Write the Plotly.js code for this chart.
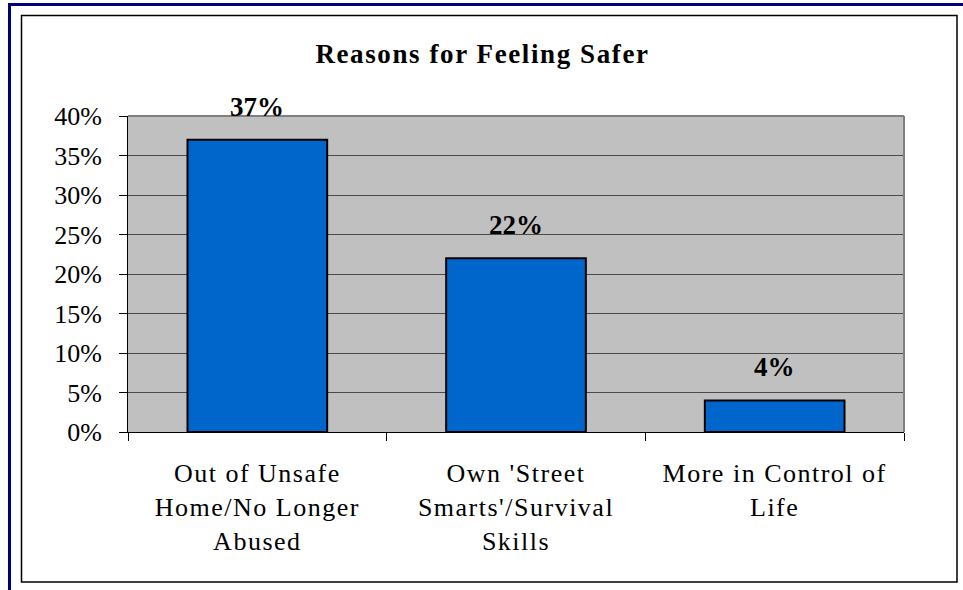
<!DOCTYPE html>
<html>
<head>
<meta charset="utf-8">
<script src="https://cdn.plot.ly/plotly-3.0.1.min.js"></script>
<style>
  html, body { margin: 0; padding: 0; background: #ffffff; }
  #chart { width: 963px; height: 590px; }
  .xtick text { letter-spacing: 1.5px; }
  .gtitle { letter-spacing: 1.6px; }
</style>
</head>
<body>
<div id="chart"></div>
<script>
// ---- data ----
const categories = [
  "Out of Unsafe<br>Home/No Longer<br>Abused",
  "Own 'Street<br>Smarts'/Survival<br>Skills",
  "More in Control of<br>Life"
];
const values = [0.37, 0.22, 0.04];
const valueLabels = ["37%", "22%", "4%"];
const yTickValues = [0, 0.05, 0.10, 0.15, 0.20, 0.25, 0.30, 0.35, 0.40];
const chartTitle = "Reasons for Feeling Safer";

// ---- layout geometry ----
const W = 963, H = 590;
const M = { l: 128, r: 59, t: 116, b: 158 };
const PW = W - M.l - M.r, PH = H - M.t - M.b;
const px = x => (x - M.l) / PW;          // pixel x -> paper x
const py = y => (H - M.b - y) / PH;      // pixel y -> paper y

const SERIF = "Liberation Serif";

const trace = {
  type: "bar",
  x: categories,
  y: values,
  marker: { color: "#0066CC", line: { color: "#000000", width: 2 } },
  hoverinfo: "skip"
};

const annotations = categories.map((c, i) => ({
  x: c, y: values[i], xref: "x", yref: "y",
  text: valueLabels[i], showarrow: false,
  yanchor: "bottom", yshift: 16,
  font: { family: SERIF, size: 27, color: "#000000", weight: "bold" }
}));

const shapes = [
  // outer navy frame (top + left)
  { type: "line", xref: "paper", yref: "paper", x0: px(8), x1: px(963), y0: py(4.5), y1: py(4.5),
    line: { color: "#000080", width: 3 }, layer: "above" },
  { type: "line", xref: "paper", yref: "paper", x0: px(9.5), x1: px(9.5), y0: py(3), y1: py(590),
    line: { color: "#000080", width: 3 }, layer: "above" },
  // inner chart-area box
  { type: "rect", xref: "paper", yref: "paper", x0: px(21.5), x1: px(957), y0: py(15.5), y1: py(582),
    line: { color: "#000000", width: 1.5 }, layer: "above" },
  // plot-area top & right border (gray)
  { type: "line", xref: "paper", yref: "paper", x0: 0, x1: 1, y0: 1, y1: 1,
    line: { color: "#808080", width: 2 }, layer: "above" },
  { type: "line", xref: "paper", yref: "paper", x0: 1, x1: 1, y0: 0, y1: 1,
    line: { color: "#808080", width: 2 }, layer: "above" }
];

const layout = {
  width: W, height: H,
  margin: M,
  font: { family: SERIF, color: "#000000" },
  paper_bgcolor: "#ffffff",
  plot_bgcolor: "#C0C0C0",
  showlegend: false,
  bargap: 0.46,
  title: {
    text: "<b>" + chartTitle + "</b>",
    x: 482.5 / W, xanchor: "center",
    y: 1 - 54 / H, yanchor: "middle", yref: "container",
    font: { family: SERIF, size: 27, color: "#000000" }
  },
  xaxis: {
    type: "category",
    tickson: "boundaries",
    ticks: "outside", ticklen: 8, tickwidth: 1, tickcolor: "#000000",
    showline: true, linecolor: "#000000", linewidth: 1,
    showgrid: false, zeroline: false,
    tickfont: { family: SERIF, size: 26, color: "#000000" },
    ticklabelstandoff: 18,
    fixedrange: true
  },
  yaxis: {
    range: [0, 0.4],
    tickvals: yTickValues,
    tickformat: ".0%",
    ticks: "outside", ticklen: 8, tickwidth: 1, tickcolor: "#000000",
    showline: true, linecolor: "#000000", linewidth: 1,
    showgrid: true, gridcolor: "#4a4a4a", gridwidth: 1,
    zeroline: false,
    tickfont: { family: SERIF, size: 26, color: "#000000" },
    ticklabelstandoff: 12,
    fixedrange: true
  },
  annotations: annotations,
  shapes: shapes
};

Plotly.newPlot("chart", [trace], layout, { displayModeBar: false, staticPlot: true });
</script>
</body>
</html>
